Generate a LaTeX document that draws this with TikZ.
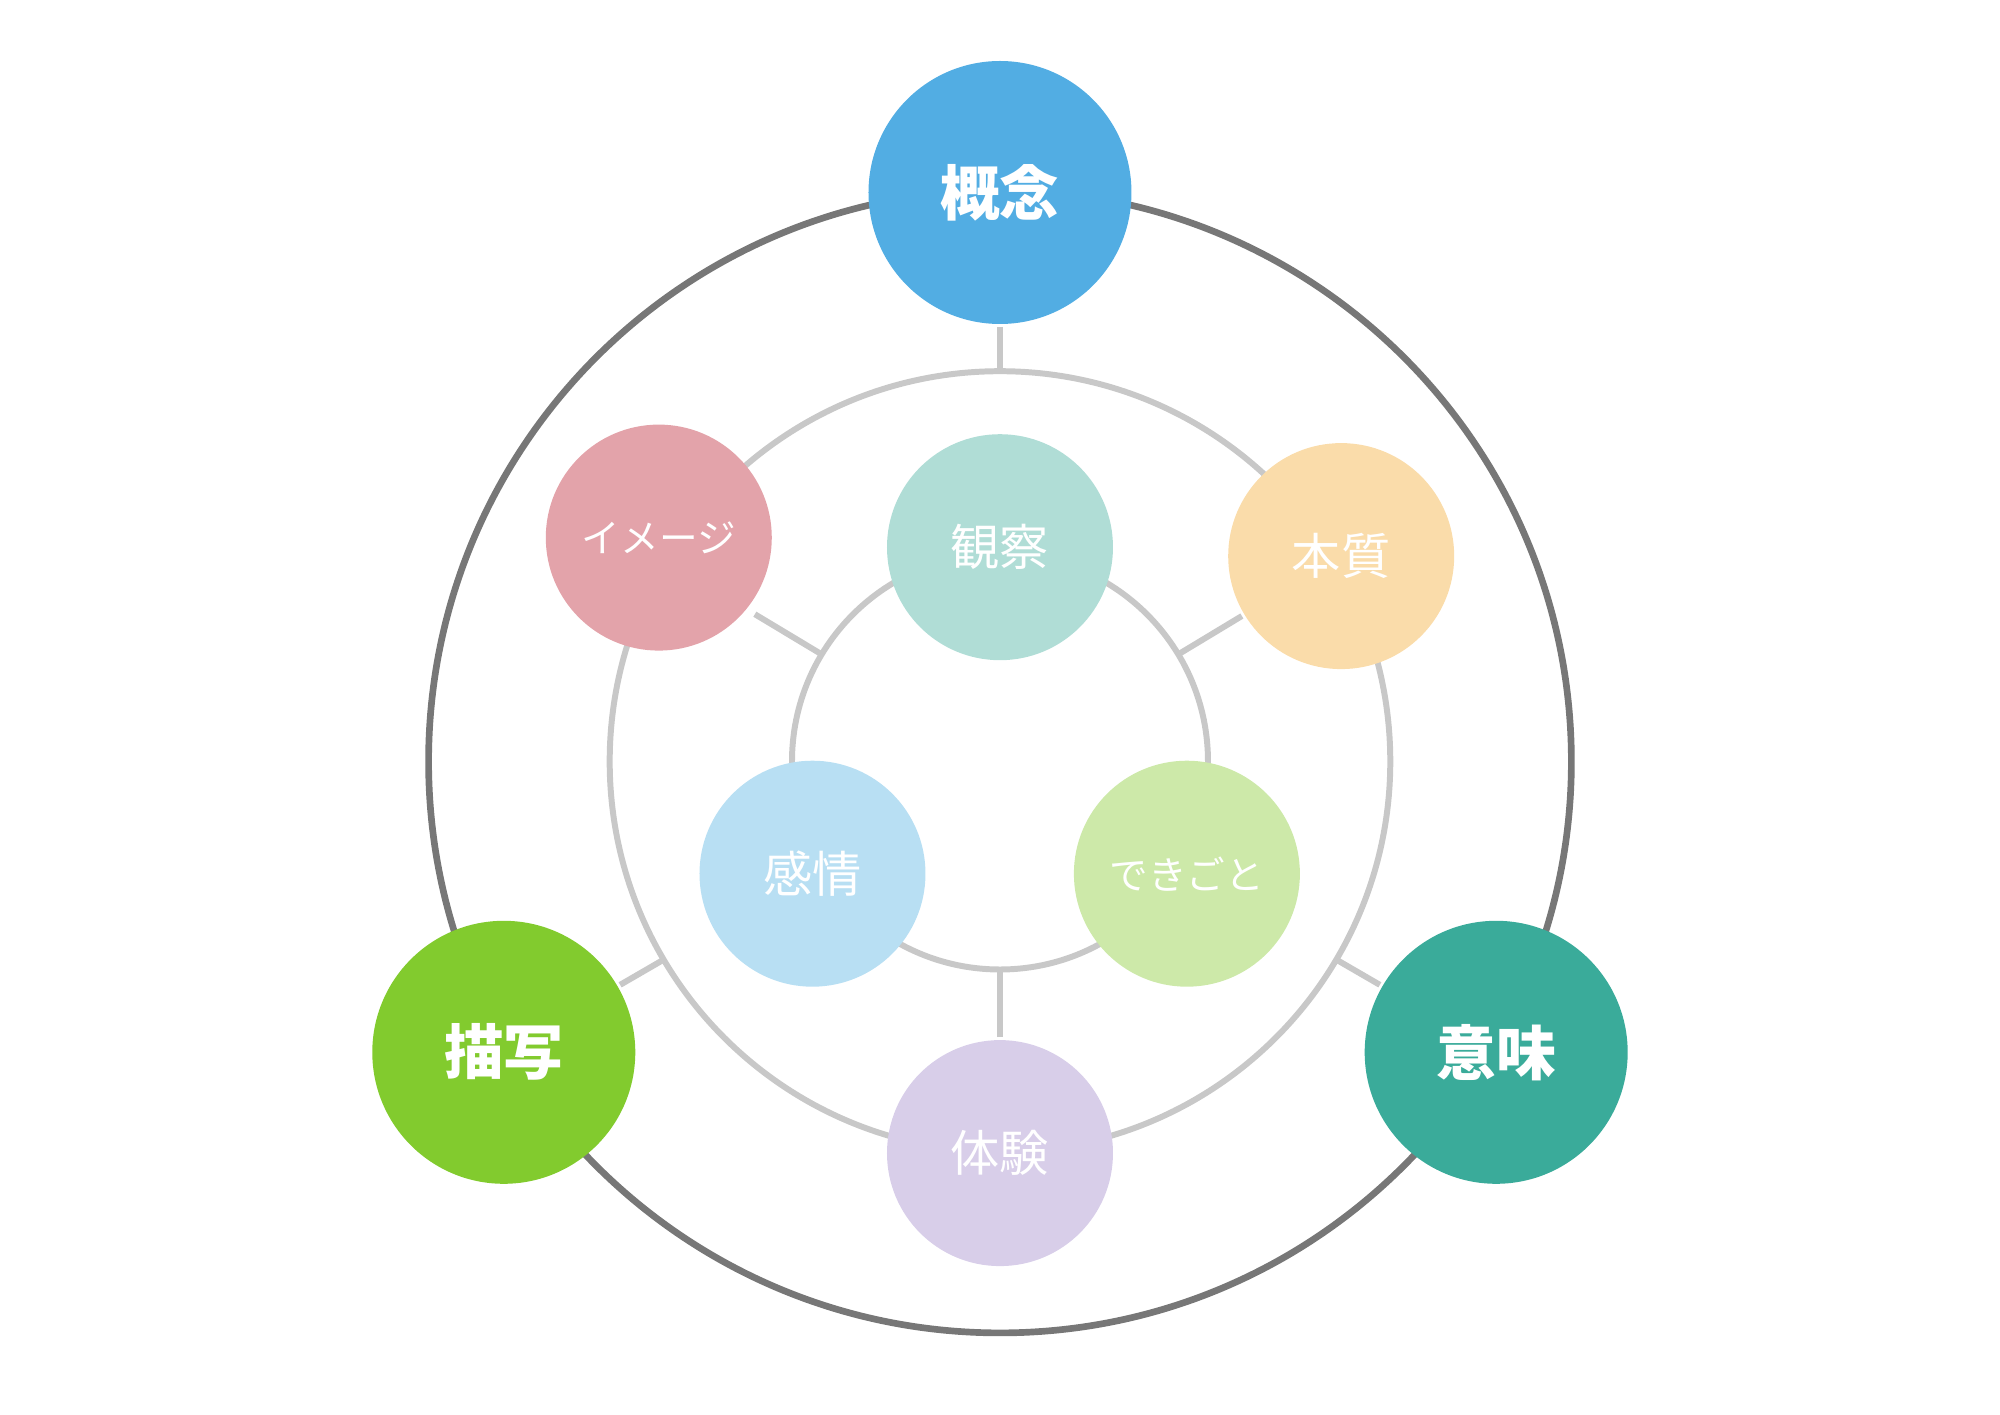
\documentclass[tikz,border=0pt]{standalone}
\usepackage{fontspec}
\newfontfamily\jpfont{Noto Sans CJK JP}
\usepackage{tikz}

\definecolor{ringdark}{HTML}{777777}
\definecolor{ringlight}{HTML}{C8C8C8}
\definecolor{cgainen}{HTML}{52ADE3}
\definecolor{cbyosha}{HTML}{82CB2E}
\definecolor{cimi}{HTML}{3AAB9A}
\definecolor{cimage}{HTML}{E3A3AA}
\definecolor{chonshitsu}{HTML}{FADCAA}
\definecolor{ctaiken}{HTML}{D8CEE9}
\definecolor{ckansatsu}{HTML}{B0DDD6}
\definecolor{ckanjo}{HTML}{B8DFF3}
\definecolor{cdekigoto}{HTML}{CDE9A9}

\begin{document}
\begin{tikzpicture}[line width=1.7pt,
  bigcircle/.style={circle, fill=#1, minimum size=2.63cm, inner sep=0pt, text=white,
    font=\jpfont\bfseries\fontsize{17}{20}\selectfont},
  smallcircle/.style={circle, fill=#1, minimum size=2.26cm, inner sep=0pt, text=white,
    font=\jpfont\fontsize{14}{17}\selectfont},
  kana/.style={font=\jpfont\fontsize{11}{13}\selectfont}]
  \useasboundingbox (-10,-6.525) rectangle (10,7.615);

  % rings
  \draw[ringdark, line width=1.9pt] (0,0) circle (5.714);
  \draw[ringlight] (0,0) circle (3.903);
  \draw[ringlight] (0,0) circle (2.08);

  % points on the rings
  \coordinate (m90) at (90:3.903);
  \coordinate (m210) at (210.5:3.903);
  \coordinate (m330) at (329.5:3.903);
  \coordinate (i31) at (31:2.08);
  \coordinate (i149) at (149:2.08);
  \coordinate (e149) at (149:2.86);
  \coordinate (i270) at (270:2.08);

  % outer nodes
  \node[bigcircle=cgainen] (gainen) at (90:5.69) {概念};
  \node[bigcircle=cbyosha] (byosha) at (-4.962,-2.908) {描写};
  \node[bigcircle=cimi] (imi) at (4.962,-2.908) {意味};

  % middle nodes
  \node[smallcircle=cimage, kana] (image) at (-3.412,2.239) {イメージ};
  \node[smallcircle=chonshitsu] (honshitsu) at (3.412,2.054) {本質};
  \node[smallcircle=ctaiken] (taiken) at (0,-3.916) {体験};

  % inner nodes
  \node[smallcircle=ckansatsu] (kansatsu) at (0,2.143) {観察};
  \node[smallcircle=ckanjo] (kanjo) at (-1.875,-1.122) {感情};
  \node[smallcircle=cdekigoto, kana] (dekigoto) at (1.869,-1.122) {できごと};

  \draw[ringlight] (gainen) -- (m90);
  \draw[ringlight] (byosha) -- (m210);
  \draw[ringlight] (imi) -- (m330);
  \draw[ringlight] (e149) -- (i149);
  \draw[ringlight] (honshitsu) -- (i31);
  \draw[ringlight] (taiken) -- (i270);
\end{tikzpicture}
\end{document}
